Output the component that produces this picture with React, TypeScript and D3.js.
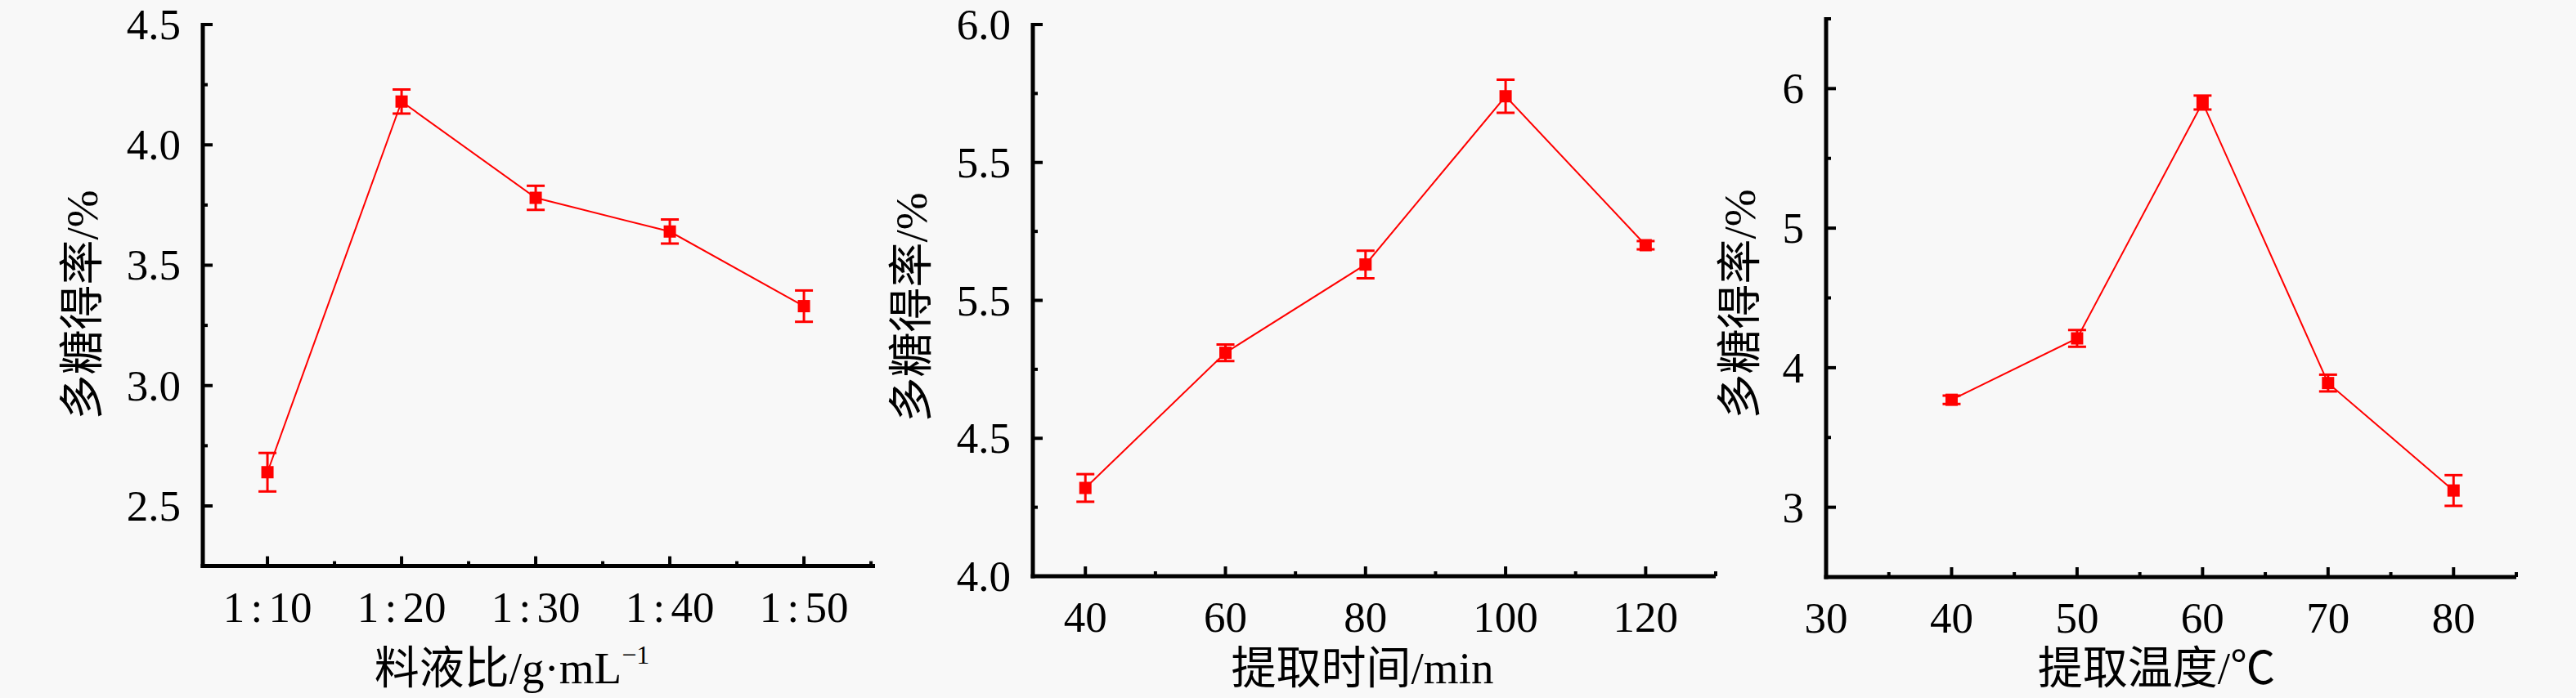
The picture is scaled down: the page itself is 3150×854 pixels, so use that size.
import React from 'react';
import * as d3 from 'd3';

// 料液比
const ratioLabels = ['1 : 10', '1 : 20', '1 : 30', '1 : 40', '1 : 50'];
const ratioX = [1, 2, 3, 4, 5];
const ratioYield = [2.64, 4.18, 3.78, 3.64, 3.33];
const ratioErr = [0.08, 0.05, 0.05, 0.05, 0.065];
const ratioYTicks = [2.5, 3.0, 3.5, 4.0, 4.5];
const ratioYLabels = ['2.5', '3.0', '3.5', '4.0', '4.5'];

// 提取时间
const timeX = [40, 60, 80, 100, 120];
const timeYield = [4.32, 4.81, 5.13, 5.74, 5.2];
const timeErr = [0.05, 0.03, 0.05, 0.06, 0.015];
const timeYTicks = [4.0, 4.5, 5.0, 5.5, 6.0];
const timeYLabels = ['4.0', '4.5', '5.5', '5.5', '6.0'];

// 提取温度
const tempX = [40, 50, 60, 70, 80];
const tempYield = [3.77, 4.21, 5.9, 3.89, 3.12];
const tempErr = [0.03, 0.06, 0.05, 0.06, 0.11];
const tempXTicks = [30, 40, 50, 60, 70, 80];
const tempYTicks = [3, 4, 5, 6];

const FONT = "'Liberation Serif', 'Times New Roman', 'Noto Sans CJK SC', serif";
const RED = '#ff0000';

interface PanelProps {
  left: number;
  right: number;
  top: number;
  bottom: number;
  xDomain: [number, number];
  yDomain: [number, number];
  xs: number[];
  ys: number[];
  errs: number[];
  xTicks: number[];
  xTickLabels: string[];
  xMinor: number[];
  yTicks: number[];
  yTickLabels: string[];
  yMinor: number[];
  xTitle: React.ReactNode;
  xTitleX: number;
  yTitleX: number;
  yTitleY: number;
}

const Panel: React.FC<PanelProps> = (p) => {
  const x = d3.scaleLinear().domain(p.xDomain).range([p.left, p.right]);
  const y = d3.scaleLinear().domain(p.yDomain).range([p.bottom, p.top]);
  const pts: [number, number][] = p.xs.map((v, i) => [x(v), y(p.ys[i])]);
  const line = d3.line()(pts) || '';
  const x0 = p.left;
  const y0 = p.bottom;

  return (
    <g fontFamily={FONT}>
      {/* axes */}
      <line x1={x0} x2={x0} y1={p.top - 2} y2={y0 + 2.5} stroke="#000" strokeWidth={5} />
      <line x1={x0 - 2.5} x2={p.right} y1={y0} y2={y0} stroke="#000" strokeWidth={5} />

      {p.yTicks.map((t, i) => (
        <g key={'yt' + i}>
          <line x1={x0} x2={x0 + 12} y1={y(t)} y2={y(t)} stroke="#000" strokeWidth={4} />
          <text x={x0 - 27} y={y(t)} textAnchor="end" dominantBaseline="central" fontSize={53}>
            {p.yTickLabels[i]}
          </text>
        </g>
      ))}
      {p.yMinor.map((t, i) => (
        <line key={'ym' + i} x1={x0} x2={x0 + 6} y1={y(t)} y2={y(t)} stroke="#000" strokeWidth={4} />
      ))}

      {p.xTicks.map((t, i) => (
        <g key={'xt' + i}>
          <line x1={x(t)} x2={x(t)} y1={y0} y2={y0 - 12} stroke="#000" strokeWidth={4} />
          <text x={x(t)} y={y0 + 68} textAnchor="middle" fontSize={53} wordSpacing={-6}>
            {p.xTickLabels[i]}
          </text>
        </g>
      ))}
      {p.xMinor.map((t, i) => (
        <line key={'xm' + i} x1={x(t)} x2={x(t)} y1={y0} y2={y0 - 6} stroke="#000" strokeWidth={4} />
      ))}

      {/* series */}
      <path d={line} fill="none" stroke={RED} strokeWidth={2} />
      {p.xs.map((v, i) => {
        const cx = x(v);
        const hi = y(p.ys[i] + p.errs[i]);
        const lo = y(p.ys[i] - p.errs[i]);
        return (
          <g key={'pt' + i}>
            <line x1={cx} x2={cx} y1={hi} y2={lo} stroke={RED} strokeWidth={3} />
            <line x1={cx - 11} x2={cx + 11} y1={hi} y2={hi} stroke={RED} strokeWidth={3} />
            <line x1={cx - 11} x2={cx + 11} y1={lo} y2={lo} stroke={RED} strokeWidth={3} />
            <rect x={cx - 7.5} y={y(p.ys[i]) - 7.5} width={15} height={15} fill={RED} />
          </g>
        );
      })}

      {/* titles */}
      <text
        transform={`translate(${p.yTitleX},${p.yTitleY}) rotate(-90)`}
        textAnchor="middle"
        dominantBaseline="central"
        fontSize={55}
      >
        多糖得率/%
      </text>
      <text x={p.xTitleX} y={836} textAnchor="middle" fontSize={55}>
        {p.xTitle}
      </text>
    </g>
  );
};

const range = (a: number, b: number, s: number) => d3.range(a, b + s / 2, s);

export default function App() {
  return (
    <svg
      width={3150}
      height={854}
      style={{ position: 'absolute', left: 0, top: 0, display: 'block' }}
    >
      <rect width={3150} height={854} fill="#f8f8f8" />

      <Panel
        left={248}
        right={1070}
        top={30}
        bottom={692.6}
        xDomain={[0.518, 5.53]}
        yDomain={[2.25, 4.5]}
        xs={ratioX}
        ys={ratioYield}
        errs={ratioErr}
        xTicks={ratioX}
        xTickLabels={ratioLabels}
        xMinor={range(1.5, 5.5, 1)}
        yTicks={ratioYTicks}
        yTickLabels={ratioYLabels}
        yMinor={range(2.75, 4.25, 0.5)}
        xTitle={
          <>
            料液比/g·mL
            <tspan fontSize={32} dy={-24}>
              −1
            </tspan>
          </>
        }
        xTitleX={626}
        yTitleX={100}
        yTitleY={373}
      />

      <Panel
        left={1263}
        right={2098}
        top={30}
        bottom={705}
        xDomain={[32.5, 130]}
        yDomain={[4.0, 6.0]}
        xs={timeX}
        ys={timeYield}
        errs={timeErr}
        xTicks={timeX}
        xTickLabels={timeX.map(String)}
        xMinor={range(50, 130, 20)}
        yTicks={timeYTicks}
        yTickLabels={timeYLabels}
        yMinor={range(4.25, 5.75, 0.5)}
        xTitle="提取时间/min"
        xTitleX={1666}
        yTitleX={1114}
        yTitleY={376}
      />

      <Panel
        left={2233}
        right={3077}
        top={23}
        bottom={706}
        xDomain={[30, 85]}
        yDomain={[2.5, 6.5]}
        xs={tempX}
        ys={tempYield}
        errs={tempErr}
        xTicks={tempXTicks}
        xTickLabels={tempXTicks.map(String)}
        xMinor={range(35, 85, 10)}
        yTicks={tempYTicks}
        yTickLabels={tempYTicks.map(String)}
        yMinor={range(3.5, 6.5, 1)}
        xTitle="提取温度/℃"
        xTitleX={2637}
        yTitleX={2127}
        yTitleY={372}
      />
    </svg>
  );
}
